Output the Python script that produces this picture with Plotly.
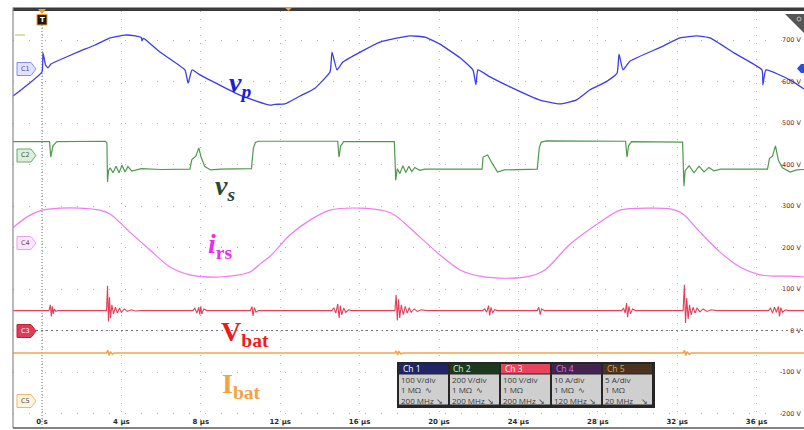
import plotly.graph_objects as go

# ---------------- data (time in µs, screen value in V) ----------------
vp_t = [-1.46, -0.71, 0.0, 0.05, 0.18, 0.30, 0.45, 0.65, 1.91, 2.67, 3.43, 4.18, 4.69, 5.00, 5.04, 5.10,
        5.19, 5.94, 7.20, 7.36, 7.56, 7.96, 9.97, 11.49, 11.74, 12.24, 13.00, 13.75, 14.51, 14.61, 14.86,
        15.16, 17.03, 18.54, 19.29, 20.05, 21.06, 21.71, 21.86, 21.96, 22.57, 23.58, 25.09, 26.10, 26.90,
        27.61, 28.41, 28.97, 29.07, 29.27, 29.62, 31.18, 32.14, 33.00, 33.65, 34.86, 36.27, 36.32, 36.47,
        37.68, 38.39]
vp_v = [565, 593, 623, 669, 640, 633, 642, 647, 673, 688, 705, 712, 710, 706, 698, 704,
        702, 671, 628, 596, 628, 616, 567, 543, 545, 546, 565, 584, 623, 671, 628,
        647, 695, 710, 707, 690, 657, 628, 592, 628, 611, 587, 555, 546, 555,
        580, 599, 620, 666, 628, 649, 683, 705, 710, 705, 669, 628, 592, 628,
        604, 582]

vs_t = [-1.46, 0.38, 0.44, 0.55, 0.75, 3.20, 3.27, 3.30, 3.35, 3.43, 3.58, 3.73, 3.88, 4.03, 4.18, 4.33,
        4.53, 5.00, 6.00, 7.45, 7.55, 7.75, 7.90, 8.00, 8.20, 8.50, 9.00, 10.55, 10.65, 10.75, 10.90,
        14.90, 14.96, 15.05, 15.20, 17.75, 17.82, 17.90, 18.03, 18.18, 18.33, 18.48, 18.63, 18.78, 19.03,
        19.29, 22.17, 22.22, 22.45, 22.55, 22.65, 22.95, 23.30, 24.95, 25.05, 25.15, 25.40, 29.40, 29.47,
        29.55, 29.70, 32.27, 32.34, 32.40, 32.60, 32.85, 33.10, 33.35, 33.60, 33.85, 34.20, 36.55, 36.65,
        36.80, 36.95, 37.10, 37.30, 37.70, 38.00, 38.39]
vs_v = [455, 455, 418, 445, 455, 456, 452, 358, 385, 392, 380, 396, 380, 398, 382, 395,
        384, 390, 388, 389, 412, 420, 440, 420, 395, 387, 389, 390, 440, 453, 456,
        456, 418, 445, 455, 455, 362, 390, 378, 397, 381, 396, 383, 393, 386,
        389, 389, 418, 423, 412, 405, 382, 387, 389, 440, 454, 457, 456, 418,
        445, 455, 454, 348, 385, 397, 380, 396, 382, 393, 385, 389, 389, 415,
        420, 445, 410, 392, 382, 387, 388]

irs_t = [-1.46, -0.71, 0.0, 0.91, 1.91, 2.92, 3.43, 4.43, 5.44, 6.45, 7.46, 8.97, 10.48, 10.98, 11.49,
         12.49, 13.50, 14.51, 16.02, 17.28, 17.78, 19.04, 20.05, 21.06, 22.07, 23.58, 24.58, 25.34,
         26.60, 28.11, 29.12, 30.63, 31.64, 32.29, 33.15, 34.16, 35.16, 36.17, 36.93, 37.68, 38.39]
irs_v = [248, 275, 290, 295, 295, 290, 281, 237, 194, 153, 134, 129, 141, 160, 179,
         230, 266, 290, 295, 288, 278, 225, 182, 146, 131, 126, 131, 146,
         208, 261, 290, 295, 293, 281, 237, 189, 153, 134, 131, 131, 129]

vbat_t = [-1.46, 0.35, 0.42, 0.47, 0.52, 0.57, 0.62, 0.70, 0.80,
          3.25, 3.30, 3.35, 3.40, 3.45, 3.52, 3.60, 3.70, 3.80, 3.90, 4.00, 4.15, 4.30, 4.50, 4.70, 5.00,
          7.60, 7.70, 7.80, 7.90, 7.95, 8.00, 8.05, 8.15, 8.30,
          10.50, 10.58, 10.63, 10.70, 10.78, 10.90,
          14.60, 14.70, 14.80, 14.90, 14.97, 15.03, 15.10, 15.20, 15.30, 15.45, 15.60,
          17.78, 17.84, 17.90, 17.96, 18.02, 18.10, 18.20, 18.30, 18.40, 18.50, 18.60, 18.75, 18.90, 19.10, 19.40,
          22.20, 22.30, 22.40, 22.50, 22.55, 22.62, 22.70, 22.80, 22.95,
          24.95, 25.03, 25.10, 25.17, 25.30,
          29.20, 29.30, 29.38, 29.45, 29.50, 29.57, 29.65, 29.75, 29.90,
          32.30, 32.36, 32.42, 32.48, 32.55, 32.62, 32.70, 32.80, 32.90, 33.00, 33.15, 33.30, 33.50, 33.70, 34.00,
          36.60, 36.70, 36.80, 36.90, 37.00, 37.10, 37.15, 37.22, 37.30, 37.45, 37.60, 38.39]
vbat_v = [48, 48, 62, 34, 58, 40, 52, 46, 48,
          48, 108, 22, 80, 30, 62, 40, 56, 42, 54, 44, 52, 46, 50, 47, 48,
          48, 54, 42, 56, 38, 58, 40, 52, 48,
          48, 58, 35, 55, 44, 48,
          48, 55, 42, 64, 30, 60, 38, 54, 44, 50, 48,
          48, 86, 24, 75, 30, 62, 38, 58, 42, 55, 44, 52, 46, 50, 48,
          48, 52, 44, 60, 36, 56, 42, 50, 48,
          48, 56, 38, 52, 48,
          48, 54, 42, 66, 32, 58, 40, 52, 48,
          48, 110, 18, 78, 28, 62, 38, 56, 42, 54, 45, 52, 46, 50, 48,
          48, 54, 42, 56, 44, 58, 34, 55, 44, 50, 48, 48]

ibat_t = [-1.46, 3.25, 3.32, 3.38, 3.45, 3.55, 3.65, 17.78, 17.85, 17.91, 17.98, 18.08, 18.20,
          32.30, 32.37, 32.43, 32.50, 32.60, 32.72, 38.39]
ibat_v = [-54, -54, -48, -60, -51, -57, -54, -54, -49, -59, -51, -56, -54,
          -54, -48, -60, -51, -57, -54, -54]

x_tickvals = [0, 4, 8, 12, 16, 20, 24, 28, 32, 36]
x_ticktext = ["0 s", "4 µs", "8 µs", "12 µs", "16 µs", "20 µs", "24 µs", "28 µs", "32 µs", "36 µs"]
y_tickvals = [700, 600, 500, 400, 300, 200, 100, 0, -100, -200]
y_ticktext = ["700 V", "600 V", "500 V", "400 V", "300 V", "200 V", "100 V", "0 V", "-100 V", "-200 V"]

channels = ["Ch 1", "Ch 2", "Ch 3", "Ch 4", "Ch 5"]
ch_scale = ["100 V/div", "200 V/div", "100 V/div", "10 A/div", "5 A/div"]
ch_imp = ["1 MΩ  ∿", "1 MΩ  ∿", "1 MΩ", "1 MΩ  ∿", "1 MΩ"]
ch_bw = ["200 MHz ↘", "200 MHz ↘", "200 MHz ↘", "120 MHz ↘", "20 MHz    ↘"]

# ---------------- layout helpers (pixel -> paper) ----------------
L, R, T, B = 13, 804, 11, 428
W, H = R - L, B - T


def px(x):
    return (x - L) / W


def py(y):
    return (B - y) / H


fig = go.Figure()
fig.add_trace(go.Scatter(x=ibat_t, y=ibat_v, mode="lines", line=dict(color="#f2a448", width=1.6)))
fig.add_trace(go.Scatter(x=vbat_t, y=vbat_v, mode="lines", line=dict(color="#e0405a", width=1.1)))
fig.add_trace(go.Scatter(x=irs_t, y=irs_v, mode="lines", line=dict(color="#f07af0", width=1.2, shape="spline", smoothing=0.8)))
fig.add_trace(go.Scatter(x=vs_t, y=vs_v, mode="lines", line=dict(color="#4e9a4e", width=1.2)))
fig.add_trace(go.Scatter(x=vp_t, y=vp_v, mode="lines", line=dict(color="#3c3cec", width=1.3, shape="spline", smoothing=0.4)))

shapes = []
# frame
shapes.append(dict(type="rect", xref="paper", yref="paper", x0=px(13), x1=px(804), y0=py(11), y1=py(7.5),
                   fillcolor="#3a3a3a", line=dict(width=0), layer="above"))
shapes.append(dict(type="line", xref="paper", yref="paper", x0=0, x1=0, y0=0, y1=py(7.5),
                   line=dict(color="#8a8a8a", width=1.2)))
shapes.append(dict(type="line", xref="paper", yref="paper", x0=0, x1=1, y0=0, y1=0,
                   line=dict(color="#5a5a5a", width=1.5)))
# trigger line and C3 zero reference
shapes.append(dict(type="line", xref="x", yref="paper", x0=0, x1=0, y0=0, y1=py(25),
                   line=dict(color="#707070", width=1, dash="1px,2px"), layer="below"))
shapes.append(dict(type="line", xref="paper", yref="y", x0=px(36), x1=1, y0=0, y1=0,
                   line=dict(color="#707070", width=1, dash="2px,3px"), layer="below"))
# trigger level mark
shapes.append(dict(type="line", xref="paper", yref="paper", x0=px(15), x1=px(25), y0=py(35), y1=py(35),
                   line=dict(color="#c8d48c", width=1.5)))
# trigger T marker
shapes.append(dict(type="path", xref="paper", yref="paper",
                   path=f"M {px(38)},{py(9)} L {px(46)},{py(9)} L {px(42)},{py(14)} Z",
                   fillcolor="#f39a2a", line=dict(width=0)))
shapes.append(dict(type="rect", xref="paper", yref="paper", x0=px(37), x1=px(47), y0=py(25), y1=py(14.5),
                   fillcolor="#1a1a1a", line=dict(color="#f39a2a", width=1)))
shapes.append(dict(type="path", xref="paper", yref="paper",
                   path=f"M {px(285)},{py(7.5)} L {px(292)},{py(7.5)} L {px(288.5)},{py(11)} Z",
                   fillcolor="#e8a050", line=dict(width=0)))
# top-right zoom triangle
shapes.append(dict(type="path", xref="paper", yref="paper",
                   path=f"M {px(785)},{py(14)} L {px(804)},{py(14)} L {px(804)},{py(33)} Z",
                   fillcolor="#555555", line=dict(width=0)))
shapes.append(dict(type="circle", xref="paper", yref="paper", x0=px(797), x1=px(801), y0=py(21), y1=py(17),
                   line=dict(color="#bbbbbb", width=1)))
# blue ref marker at right
shapes.append(dict(type="path", xref="paper", yref="paper",
                   path=f"M {px(797)},{py(68.5)} L {px(801)},{py(64)} L {px(804)},{py(64)} L {px(804)},{py(73)} L {px(801)},{py(73)} Z",
                   fillcolor="#2b4de0", line=dict(width=0)))

# channel badges
badges = [("C1", 69, "#e2e2fb", "#8c8ce6", "#4a4a8a"),
          ("C2", 155.5, "#dcefdc", "#6aa86a", "#3d5d3d"),
          ("C4", 243, "#fde6fd", "#e2a6e2", "#6a4a6a"),
          ("C3", 331, "#e03a55", "#c02040", "#ffffff"),
          ("C5", 401, "#fff4e2", "#f2b46a", "#5a4a3a")]
annotations = []
for name, yc, fill, edge, tc in badges:
    shapes.append(dict(type="path", xref="paper", yref="paper",
                       path=(f"M {px(17)},{py(yc - 6.5)} L {px(31)},{py(yc - 6.5)} L {px(36)},{py(yc)} "
                             f"L {px(31)},{py(yc + 6.5)} L {px(17)},{py(yc + 6.5)} Z"),
                       fillcolor=fill, line=dict(color=edge, width=1)))
    annotations.append(dict(xref="paper", yref="paper", x=px(25), y=py(yc), text=name, showarrow=False,
                            font=dict(family="DejaVu Sans", size=6.5, color=tc), xanchor="center", yanchor="middle"))

annotations.append(dict(xref="paper", yref="paper", x=px(42), y=py(20), text="<b>T</b>", showarrow=False,
                        font=dict(family="DejaVu Sans", size=7, color="#ffffff"), xanchor="center", yanchor="middle"))

# info table
shapes.append(dict(type="rect", xref="paper", yref="paper", x0=px(397), x1=px(655), y0=py(408), y1=py(362),
                   fillcolor="#262626", line=dict(width=0)))
col_x = [399, 450, 501, 552, 603]
col_w = 49
head_fill = ["#1f2566", "#1e3a1e", "#e8425c", "#46224f", "#4a3420"]
head_txt = ["#ffffff", "#d6ecd6", "#ffffff", "#d87ae0", "#f2a040"]
for i, cx in enumerate(col_x):
    shapes.append(dict(type="rect", xref="paper", yref="paper", x0=px(cx), x1=px(cx + col_w), y0=py(373.5),
                       y1=py(364), fillcolor=head_fill[i], line=dict(width=0)))
    shapes.append(dict(type="rect", xref="paper", yref="paper", x0=px(cx), x1=px(cx + col_w), y0=py(404.5),
                       y1=py(374.5), fillcolor="#cfcfcf", line=dict(width=0)))
    annotations.append(dict(xref="paper", yref="paper", x=px(cx + 2.5), y=py(368.5), text=channels[i],
                            showarrow=False, xanchor="left", yanchor="middle", borderpad=0,
                            font=dict(family="Open Sans", size=8.5, color=head_txt[i])))
    annotations.append(dict(xref="paper", yref="paper", x=px(cx + 1), y=py(390.2),
                            text=f"{ch_scale[i]}<br>{ch_imp[i]}<br>{ch_bw[i]}",
                            showarrow=False, xanchor="left", yanchor="middle", align="left", borderpad=0,
                            font=dict(family="Open Sans", size=8, color="#3a3a3a")))

# waveform labels
serif = "Liberation Serif"
annotations += [
    dict(xref="paper", yref="paper", x=px(240), y=py(84), text="<b><i>v<sub>p</sub></i></b>", showarrow=False,
         font=dict(family=serif, size=28, color="#1c1cd2"), xanchor="center", yanchor="middle"),
    dict(xref="paper", yref="paper", x=px(225), y=py(187), text="<b><i>v<sub>s</sub></i></b>", showarrow=False,
         font=dict(family=serif, size=28, color="#2e4a2e"), xanchor="center", yanchor="middle"),
    dict(xref="paper", yref="paper", x=px(220), y=py(245), text="<b><i>i</i><sub>rs</sub></b>", showarrow=False,
         font=dict(family=serif, size=28, color="#ee2cee"), xanchor="center", yanchor="middle"),
    dict(xref="paper", yref="paper", x=px(245), y=py(333), text="<b>V<sub>bat</sub></b>", showarrow=False,
         font=dict(family=serif, size=28, color="#ee1c1c"), xanchor="center", yanchor="middle"),
    dict(xref="paper", yref="paper", x=px(241), y=py(385), text="<b>I<sub>bat</sub></b>", showarrow=False,
         font=dict(family=serif, size=28, color="#f5a242"), xanchor="center", yanchor="middle"),
]

fig.update_layout(
    width=804, height=430,
    margin=dict(l=L, r=0, t=T, b=430 - B),
    paper_bgcolor="#ffffff", plot_bgcolor="#ffffff",
    showlegend=False,
    shapes=shapes, annotations=annotations,
    xaxis=dict(range=[-1.461, 38.388], tickvals=x_tickvals, ticktext=x_ticktext,
               ticklabelposition="inside", ticks="", showline=False, zeroline=False,
               showgrid=True, gridcolor="#b4b4b4", gridwidth=1, griddash="1px,7px",
               tickfont=dict(family="DejaVu Sans", size=7, color="#2a2a2a", weight="bold"), fixedrange=True),
    yaxis=dict(range=[-234.9, 769.9], tickvals=y_tickvals, ticktext=y_ticktext, side="right",
               ticklabelposition="inside", ticks="", showline=False, zeroline=False,
               showgrid=True, gridcolor="#b4b4b4", gridwidth=1, griddash="1px,15px",
               tickfont=dict(family="DejaVu Sans", size=6.5, color="#7a2222"), fixedrange=True),
)

fig.write_html("out.html", config={"displayModeBar": False, "staticPlot": True},
               post_script="document.body.style.margin='0';document.body.style.overflow='hidden';"
                           "document.documentElement.style.overflow='hidden';")
